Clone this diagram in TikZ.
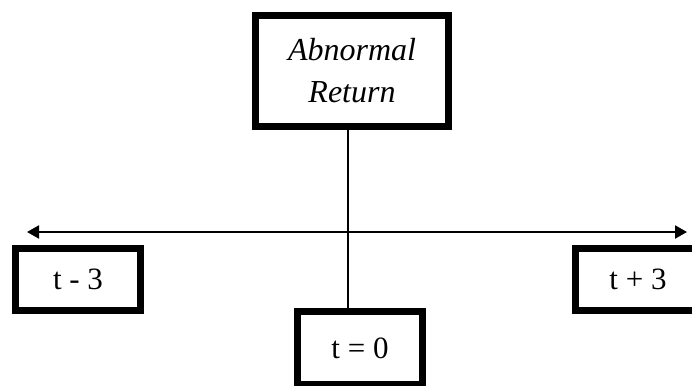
\documentclass[tikz,border=0pt]{standalone}
\usepackage{fontspec}
\setmainfont{Liberation Serif}
\usetikzlibrary{arrows.meta}

\begin{document}
\begin{tikzpicture}[
    x=1pt,y=-1pt,
    box/.style={rectangle,draw,line width=7pt,inner sep=0pt,font=\fontsize{31}{38}\selectfont},
    title box/.style={box,align=center,font=\fontsize{32}{42}\selectfont\itshape},
    arrow/.style={{Triangle[length=12pt,width=13pt]}-{Triangle[length=12pt,width=13pt]},line width=2pt},
    line/.style={line width=2pt}
]
\useasboundingbox (0,0) rectangle (692,385);

% Event and window
\node[title box,minimum width=193pt,minimum height=111pt] (ar) at (352,71) {Abnormal\\Return};
\node[box,minimum width=125pt,minimum height=62pt] (tm3) at (78,279.5) {t - 3};
\node[box,minimum width=125pt,minimum height=62pt] (tp3) at (638,279.5) {t + 3};
\node[box,minimum width=125pt,minimum height=73pt] (t0) at (360,348) {t = 0};

% Time axis
\coordinate (axisl) at (27,232);
\coordinate (axisr) at (687,232);
\draw[arrow] (axisl) -- (axisr);

% Link
\draw[line] ([xshift=-4pt]ar.south) -- ([xshift=-4pt]ar.south |- t0.north);

\end{tikzpicture}
\end{document}
